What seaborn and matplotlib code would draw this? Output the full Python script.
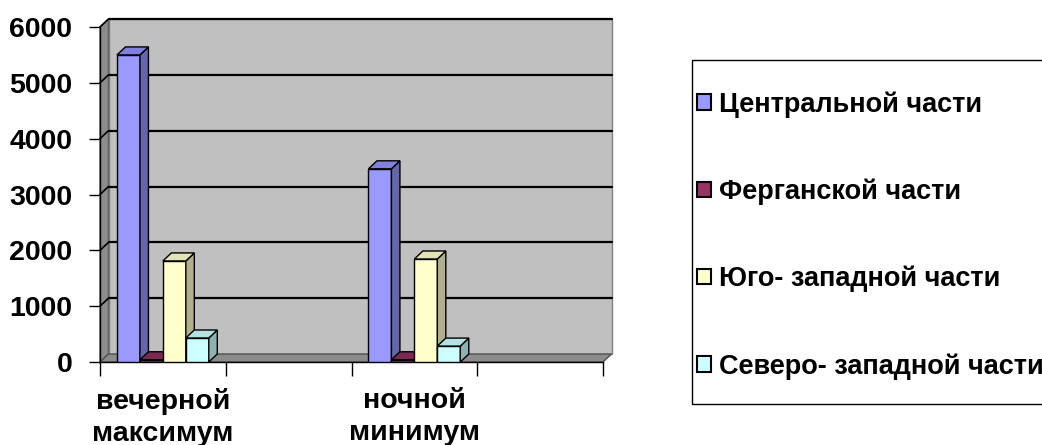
import numpy as np
import pandas as pd
import matplotlib
matplotlib.use("Agg")
import matplotlib.pyplot as plt
import seaborn as sns
from matplotlib.patches import Polygon, Patch, Rectangle

# ---- data ----
categories = ["вечерной\nмаксимум", " ", "ночной\nминимум", "  "]
data_categories = ["вечерной\nмаксимум", "ночной\nминимум"]
regions = ["Центральной части", "Ферганской части",
           "Юго- западной части", "Северо- западной части"]
central = [5500, 3460]
fergana = [40, 40]
southwest = [1810, 1845]
northwest = [430, 285]
yticks = [0, 1000, 2000, 3000, 4000, 5000, 6000]

front_colors = ["#9999FF", "#993366", "#FFFFCC", "#CCFFFF"]
side_colors = ["#6666AA", "#6B2447", "#B0B08C", "#8EB2B2"]
top_colors = ["#8080DD", "#7A2952", "#E3E3B5", "#B5E3E3"]

rows = []
for reg, vals in zip(regions, [central, fergana, southwest, northwest]):
    for c, v in zip(data_categories, vals):
        rows.append({"cat": c, "region": reg, "val": v})
df = pd.DataFrame(rows)

sns.set_style("white")
plt.rcParams["font.family"] = ["Liberation Sans", "DejaVu Sans"]
plt.rcParams["text.color"] = "black"
plt.rcParams["xtick.color"] = "black"
plt.rcParams["ytick.color"] = "black"
plt.rcParams["xtick.labelcolor"] = "black"
plt.rcParams["ytick.labelcolor"] = "black"

W, H = 1042, 445
fig = plt.figure(figsize=(W / 100, H / 100), dpi=100)
ax_l, ax_r, ax_b, ax_t = 100, 603, 362, 27
ax = fig.add_axes([ax_l / W, 1 - ax_b / H, (ax_r - ax_l) / W, (ax_b - ax_t) / H])
ax.set_facecolor("none")

sns.barplot(data=df, x="cat", y="val", hue="region", order=categories,
            hue_order=regions, palette=front_colors, saturation=1,
            width=0.73, edgecolor="black", linewidth=1, errorbar=None,
            legend=False, ax=ax)

xmin, xmax = -0.5, len(categories) - 0.5
ymin, ymax = 0, 6000
ax.set_xlim(xmin, xmax)
ax.set_ylim(ymin, ymax)

# depth offsets in data units (from pixels)
dxp, dyp = 8.5, 8
dx = dxp * (xmax - xmin) / (ax_r - ax_l)
dy = dyp * (ymax - ymin) / (ax_b - ax_t)

# walls
back = Polygon([(xmin + dx, ymin + dy), (xmax + dx, ymin + dy),
                (xmax + dx, ymax + dy), (xmin + dx, ymax + dy)],
               closed=True, facecolor="#C0C0C0", edgecolor="#808080",
               lw=1, clip_on=False, zorder=0.5)
left = Polygon([(xmin, ymin), (xmin + dx, ymin + dy), (xmin + dx, ymax + dy),
                (xmin, ymax)], closed=True, facecolor="#8C8C8C",
               edgecolor="#606060", lw=1, clip_on=False, zorder=0.6)
floor = Polygon([(xmin, ymin), (xmax, ymin), (xmax + dx, ymin + dy),
                 (xmin + dx, ymin + dy)], closed=True, facecolor="#8C8C8C",
                edgecolor="#505050", lw=1, clip_on=False, zorder=0.6)
for p in (back, left, floor):
    ax.add_patch(p)
for yv in yticks[1:]:
    ax.plot([xmin + dx, xmax + dx], [yv + dy, yv + dy], color="black",
            lw=1.6, clip_on=False, zorder=0.7)
    ax.plot([xmin, xmin + dx], [yv, yv + dy], color="black",
            lw=1.2, clip_on=False, zorder=0.7)

# 3D bars
bars = [p for p in ax.patches if p not in (back, left, floor)
        and np.isfinite(p.get_height()) and p.get_height() > 0]
bars.sort(key=lambda p: p.get_x())
for i, p in enumerate(bars):
    x, w, h = p.get_x(), p.get_width(), p.get_height()
    fc = matplotlib.colors.to_hex(p.get_facecolor())
    k = [c.lower() for c in front_colors].index(fc.lower())
    base = 3 + i * 0.1
    p.set_zorder(base)
    side = Polygon([(x + w, 0), (x + w + dx, dy), (x + w + dx, h + dy), (x + w, h)],
                   closed=True, facecolor=side_colors[k], edgecolor="black",
                   lw=1, zorder=base + 0.03, clip_on=False)
    top = Polygon([(x, h), (x + dx, h + dy), (x + w + dx, h + dy), (x + w, h)],
                  closed=True, facecolor=top_colors[k], edgecolor="black",
                  lw=1, zorder=base + 0.04, clip_on=False)
    ax.add_patch(side)
    ax.add_patch(top)

# axes styling
for s in ("top", "right"):
    ax.spines[s].set_visible(False)
for s in ("left", "bottom"):
    ax.spines[s].set_color("black")
    ax.spines[s].set_linewidth(1)
    ax.spines[s].set_zorder(2)
ax.set_xlabel("")
ax.set_ylabel("")
ax.set_yticks(yticks)
ax.set_yticklabels([str(v) for v in yticks], fontsize=20.5, fontweight="bold",
                   color="black")
ax.tick_params(axis="y", direction="out", length=8, width=1, color="black",
               pad=12, left=True)
ax.set_xticks(np.arange(xmin, xmax + 0.01, 1.0))
ax.set_xticklabels([])
ax.tick_params(axis="x", which="major", direction="out", length=10, width=1,
               color="black", bottom=True)
ax.set_xticks(np.arange(len(categories)), minor=True)
ax.set_xticklabels(categories, minor=True, fontsize=20.5, fontweight="bold",
                   linespacing=1.3, color="black")
ax.tick_params(axis="x", which="minor", length=0, pad=19)
ax.grid(False)

# legend (frame drawn separately so it can run past the right edge)
fig.patches.append(Rectangle((692 / W, 1 - 404 / H), 400 / W, 344 / H,
                             transform=fig.transFigure, facecolor="white",
                             edgecolor="black", lw=1, zorder=1))
handles = [Patch(facecolor=c, edgecolor="black", lw=1.5) for c in front_colors]
leg = fig.legend(handles, regions, loc="upper left",
                 bbox_to_anchor=(697 / W, 1 - 91 / H),
                 bbox_transform=fig.transFigure, frameon=False,
                 prop=dict(weight="bold", size=19.5),
                 handlelength=0.5, handleheight=0.5, handletextpad=0.3,
                 labelspacing=2.25, borderpad=0, borderaxespad=0)
leg.set_zorder(2)
for t in leg.get_texts():
    t.set_color("black")

fig.savefig("out.png", dpi=100, facecolor="white")
